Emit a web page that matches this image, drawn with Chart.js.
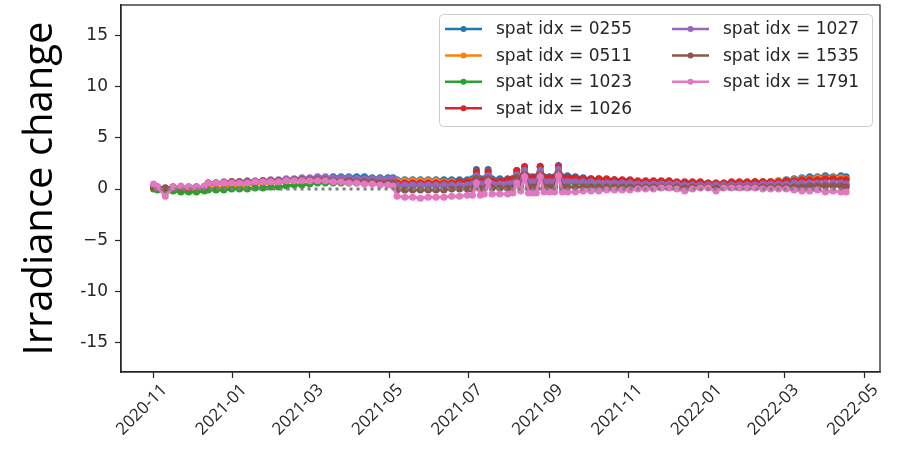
<!DOCTYPE html>
<html>
<head>
<meta charset="utf-8">
<script src="https://cdn.jsdelivr.net/npm/chart.js@4.4.1/dist/chart.umd.min.js"></script>
<style>
  html, body { margin: 0; padding: 0; background: #fff; }
  #wrap { width: 910px; height: 455px; }
</style>
</head>
<body>
<div id="wrap"><canvas id="c" width="910" height="455"></canvas></div>
<script>
// days since 2020-11-01
const days = [0,3,9,15,21,27,33,39,
  42,48,54,60,66,72,78,84,90,96,102,108,114,
  120,126,132,138,144,150,156,162,168,174,180,
  184,187,
  193,199,205,211,217,223,229,235,241,245,
  248,251,254,257,260,266,272,276,279,282,285,288,291,294,297,300,304,308,311,314,
  318,324,330,336,342,348,354,360,
  366,372,378,384,390,396,402,408,414,420,
  426,432,438,444,450,456,462,468,474,480,
  486,492,498,504,510,516,522,528,532];

const seriesNames = ['spat idx = 0255','spat idx = 0511','spat idx = 1023','spat idx = 1026','spat idx = 1027','spat idx = 1535','spat idx = 1791'];

const s0255 = [0.2,0.1,0.0,0.1,0.1,0.1,0.1,0.1,
  0.5,0.5,0.6,0.6,0.6,0.7,0.7,0.8,0.8,0.8,0.9,0.9,1.0,
  1.0,1.1,1.1,1.2,1.2,1.2,1.2,1.2,1.1,1.1,1.1,
  1.1,0.9,
  0.9,0.9,0.9,0.9,0.9,0.9,0.9,0.9,0.9,1.0,
  1.9,1.0,1.0,1.9,1.0,1.0,1.0,1.0,1.8,1.1,2.1,1.2,1.2,1.2,2.2,1.2,1.2,1.2,2.3,1.2,
  1.3,1.2,1.1,1.0,1.0,0.9,0.9,0.8,
  0.8,0.7,0.7,0.6,0.6,0.6,0.6,0.5,0.5,0.5,
  0.5,0.5,0.5,0.6,0.6,0.6,0.7,0.7,0.7,0.8,
  0.9,1.0,1.1,1.2,1.2,1.3,1.2,1.3,1.2];
const s0511 = [0.1,0.0,-0.1,-0.1,-0.1,-0.1,-0.1,-0.1,
  0.1,0.1,0.2,0.3,0.3,0.4,0.5,0.5,0.6,0.6,0.7,0.8,0.8,
  0.9,0.9,1.0,1.0,1.0,1.0,1.0,0.9,0.9,0.9,0.9,
  0.9,0.8,
  0.8,0.8,0.8,0.8,0.8,0.7,0.7,0.7,0.7,0.8,
  1.7,0.8,0.8,1.7,0.8,0.8,0.8,0.9,1.7,1.0,2.0,1.0,1.0,1.0,2.1,1.0,1.0,1.0,2.1,1.0,
  1.0,1.0,0.9,0.9,0.9,0.8,0.8,0.8,
  0.8,0.7,0.7,0.7,0.7,0.6,0.6,0.6,0.6,0.6,
  0.6,0.6,0.6,0.6,0.6,0.6,0.7,0.7,0.7,0.8,
  0.8,0.9,1.0,1.0,1.1,1.1,1.1,1.1,1.0];
const s1023 = [0.0,-0.1,-0.2,-0.2,-0.3,-0.3,-0.3,-0.2,
  -0.1,-0.1,-0.1,0.0,0.0,0.0,0.1,0.1,0.2,0.2,0.3,0.4,0.4,
  0.5,0.6,0.6,0.6,0.6,0.6,0.6,0.6,0.6,0.6,0.6,
  0.6,0.3,
  0.3,0.3,0.3,0.3,0.3,0.3,0.3,0.3,0.3,0.4,
  1.2,0.4,0.4,1.2,0.4,0.4,0.4,0.5,1.3,0.6,1.7,0.6,0.6,0.6,1.7,0.6,0.6,0.6,1.8,0.6,
  0.6,0.6,0.5,0.5,0.5,0.5,0.5,0.5,
  0.5,0.4,0.4,0.4,0.4,0.4,0.4,0.3,0.3,0.3,
  0.3,0.3,0.3,0.3,0.3,0.3,0.4,0.4,0.4,0.4,
  0.4,0.4,0.5,0.5,0.5,0.5,0.5,0.5,0.4];
const s1026 = [0.2,0.2,0.1,0.2,0.2,0.1,0.2,0.2,
  0.6,0.6,0.6,0.7,0.7,0.7,0.7,0.8,0.8,0.8,0.8,0.9,0.9,
  0.9,1.0,1.0,1.0,1.0,1.0,0.9,0.9,0.9,0.9,0.9,
  0.9,0.6,
  0.6,0.6,0.6,0.6,0.6,0.6,0.6,0.7,0.7,0.7,
  1.7,0.8,0.8,1.7,0.8,0.8,0.9,1.0,1.8,1.2,2.2,1.1,1.1,1.1,2.2,1.1,1.1,1.1,2.2,1.1,
  1.1,1.1,1.0,1.0,1.0,1.0,0.9,0.9,
  0.9,0.8,0.8,0.8,0.8,0.8,0.7,0.7,0.7,0.7,
  0.6,0.6,0.6,0.7,0.7,0.7,0.7,0.7,0.7,0.7,
  0.8,0.8,0.9,0.9,0.9,1.0,1.0,0.9,0.9];
const s1027 = [0.3,0.2,0.1,0.2,0.2,0.2,0.2,0.2,
  0.6,0.6,0.7,0.7,0.7,0.8,0.8,0.8,0.9,0.9,1.0,1.0,1.1,
  1.1,1.2,1.2,1.1,1.1,1.1,1.0,1.0,1.0,1.0,1.0,
  1.0,0.4,
  0.4,0.4,0.4,0.4,0.4,0.4,0.4,0.4,0.4,0.5,
  1.3,0.5,0.5,1.3,0.5,0.5,0.5,0.6,1.4,0.8,1.8,0.7,0.7,0.7,1.8,0.7,0.7,0.7,1.9,0.7,
  0.7,0.7,0.7,0.7,0.6,0.6,0.6,0.6,
  0.6,0.5,0.5,0.5,0.5,0.5,0.5,0.4,0.4,0.4,
  0.4,0.4,0.4,0.4,0.4,0.4,0.4,0.5,0.5,0.5,
  0.5,0.6,0.6,0.6,0.6,0.6,0.6,0.6,0.5];
const s1535 = [0.3,0.2,0.1,0.2,0.2,0.2,0.2,0.2,
  0.6,0.6,0.6,0.7,0.7,0.7,0.7,0.8,0.8,0.8,0.8,0.9,0.9,
  0.9,0.9,0.9,0.8,0.8,0.8,0.7,0.7,0.7,0.6,0.6,
  0.6,-0.1,
  -0.1,-0.1,-0.1,-0.1,-0.1,-0.1,0.0,0.0,0.0,0.0,
  1.0,0.0,0.0,1.0,0.1,0.1,0.1,0.1,1.1,0.3,1.4,0.2,0.2,0.2,1.4,0.2,0.2,0.2,1.5,0.2,
  0.2,0.2,0.2,0.2,0.2,0.2,0.2,0.2,
  0.2,0.2,0.2,0.2,0.2,0.2,0.2,0.1,0.2,0.2,
  0.2,0.1,0.2,0.2,0.2,0.2,0.2,0.2,0.2,0.2,
  0.2,0.2,0.2,0.3,0.3,0.3,0.3,0.3,0.2];
const s1791 = [0.5,0.2,-0.7,0.2,0.3,0.2,0.2,0.3,
  0.6,0.6,0.6,0.6,0.6,0.6,0.7,0.7,0.7,0.7,0.8,0.8,0.8,
  0.8,0.8,0.8,0.7,0.7,0.6,0.6,0.5,0.5,0.4,0.4,
  0.3,-0.7,
  -0.8,-0.8,-0.9,-0.8,-0.8,-0.8,-0.7,-0.7,-0.6,-0.6,
  0.6,-0.6,-0.5,0.7,-0.5,-0.5,-0.5,-0.4,0.6,-0.2,1.2,-0.4,-0.4,-0.4,1.2,-0.3,-0.3,-0.3,1.3,-0.3,
  -0.3,-0.3,-0.2,-0.2,-0.2,-0.1,-0.1,-0.1,
  -0.1,0.0,0.0,0.0,0.1,0.1,0.0,-0.2,0.0,0.1,
  0.1,-0.2,0.1,0.1,0.1,0.1,0.1,0.0,0.0,0.0,
  0.0,-0.1,-0.2,-0.2,-0.1,-0.3,-0.2,-0.3,-0.3];

// reference line at zero
const zeroDays = [0, 532];
const zeroVals = [0, 0];

const tickLabels = ['2020-11','2021-01','2021-03','2021-05','2021-07','2021-09','2021-11','2022-01','2022-03','2022-05'];
const yTicks = [-15,-10,-5,0,5,10,15];
const yTickLabels = ['-15','-10','\u22125','0','5','10','15'];

const colors = ['#1f77b4','#ff7f0e','#2ca02c','#d62728','#9467bd','#8c564b','#e377c2'];
const allSeries = [s0255, s0511, s1023, s1026, s1027, s1535, s1791];

function dayOf(lbl) {
  const p = lbl.split('-');
  return (Date.UTC(+p[0], +p[1] - 1, 1) - Date.UTC(2020, 10, 1)) / 86400000;
}
const tickDays = tickLabels.map(dayOf);

const datasets = allSeries.map((vals, i) => ({
  label: seriesNames[i],
  data: days.map((d, j) => ({x: d, y: vals[j]})),
  borderColor: colors[i],
  backgroundColor: colors[i],
  borderWidth: 3,
  pointRadius: 3.5,
  pointBorderWidth: 0,
  pointBackgroundColor: colors[i],
  order: 7 - i
}));
datasets.push({
  label: 'zero',
  data: zeroDays.map((d, j) => ({x: d, y: zeroVals[j]})),
  borderColor: '#7f7f7f',
  borderWidth: 3,
  borderDash: [3, 4],
  pointRadius: 0,
  order: 0
});

// matplotlib style legend, two columns filled column-wise
const legendBox = {
  id: 'legendBox',
  afterDraw(chart) {
    const ctx = chart.ctx;
    const x0 = 439, y0 = 14, w = 433, h = 112;
    ctx.save();
    ctx.beginPath();
    ctx.roundRect(x0 + 0.5, y0 + 0.5, w, h, 4);
    ctx.fillStyle = 'rgba(255,255,255,0.8)';
    ctx.fill();
    ctx.strokeStyle = '#cccccc';
    ctx.lineWidth = 1;
    ctx.stroke();
    ctx.font = '17px "DejaVu Sans"';
    ctx.textBaseline = 'middle';
    seriesNames.forEach((name, i) => {
      const col = i < 4 ? 0 : 1;
      const row = i < 4 ? i : i - 4;
      const lx = x0 + 6 + col * 227;
      const ly = y0 + 15 + row * 26.4;
      ctx.strokeStyle = colors[i];
      ctx.lineWidth = 2.5;
      ctx.beginPath();
      ctx.moveTo(lx, ly);
      ctx.lineTo(lx + 37, ly);
      ctx.stroke();
      ctx.fillStyle = colors[i];
      ctx.beginPath();
      ctx.arc(lx + 18.5, ly, 3, 0, Math.PI * 2);
      ctx.fill();
      ctx.fillStyle = '#262626';
      ctx.fillText(name, lx + 51, ly + 1);
    });
    ctx.restore();
  }
};

// axes frame
const frame = {
  id: 'frame',
  afterDraw(chart) {
    const a = chart.chartArea, ctx = chart.ctx;
    ctx.save();
    ctx.strokeStyle = '#262626';
    ctx.lineWidth = 1.3;
    ctx.strokeRect(a.left, a.top, a.right - a.left, a.bottom - a.top);
    ctx.restore();
  }
};

new Chart(document.getElementById('c'), {
  type: 'line',
  data: { datasets: datasets },
  options: {
    responsive: false,
    animation: false,
    layout: { padding: { left: 0, right: 30, top: 5, bottom: 0 } },
    plugins: { legend: { display: false }, tooltip: { enabled: false } },
    scales: {
      x: {
        type: 'linear',
        min: -25,
        max: 558,
        afterBuildTicks: s => { s.ticks = tickDays.map(v => ({ value: v })); },
        afterFit: s => { s.height = 83; s.paddingLeft = 0; s.paddingRight = 0; },
        grid: { drawOnChartArea: false, drawTicks: true, tickLength: 6, tickColor: '#262626', tickWidth: 1.2 },
        border: { display: true, color: '#262626', width: 1.3 },
        ticks: {
          autoSkip: false,
          minRotation: 45,
          maxRotation: 45,
          padding: 2,
          labelOffset: 11,
          color: '#262626',
          font: { family: 'Open Sans', size: 17 },
          callback: (v) => tickLabels[tickDays.indexOf(v)]
        }
      },
      y: {
        min: -17.9,
        max: 18,
        afterBuildTicks: s => { s.ticks = yTicks.map(v => ({ value: v })); },
        afterFit: s => { s.width = 121; s.paddingTop = 0; s.paddingBottom = 0; },
        grid: { drawOnChartArea: false, drawTicks: true, tickLength: 6, tickColor: '#262626', tickWidth: 1.2 },
        border: { display: true, color: '#262626', width: 1.3 },
        title: {
          display: true,
          text: 'Irradiance change',
          color: '#000',
          font: { family: 'Open Sans', size: 40 },
          padding: { top: 17, bottom: 0 }
        },
        ticks: {
          padding: 7,
          color: '#262626',
          font: { family: 'DejaVu Sans', size: 17 },
          callback: (v) => yTickLabels[yTicks.indexOf(v)]
        }
      }
    }
  },
  plugins: [legendBox, frame]
});
</script>
</body>
</html>
